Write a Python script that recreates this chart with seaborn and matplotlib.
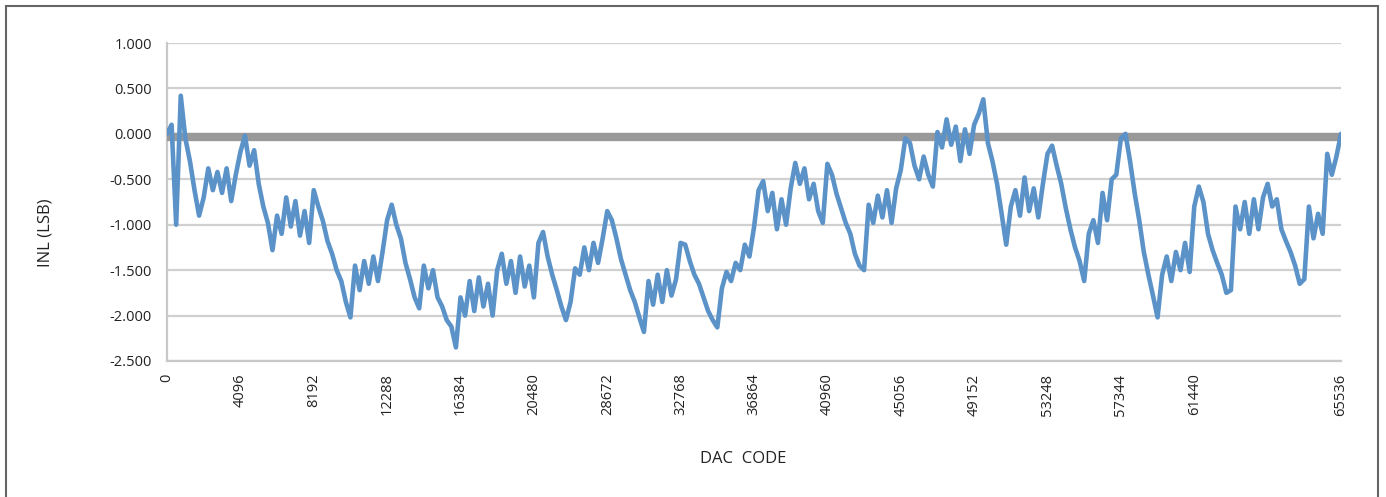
import numpy as np
import pandas as pd
import matplotlib
matplotlib.use("Agg")
import matplotlib.pyplot as plt
from matplotlib.patches import Rectangle
from matplotlib.ticker import FormatStrFormatter
import seaborn as sns

# DAC codes sampled every 256 codes across the 16-bit range
code_step = 256
full_scale = 65536

# Integral non-linearity (LSB) at each sampled code
inl_lsb = [
    0.00, 0.10, -1.00, 0.42, -0.05, -0.30, -0.62, -0.90, -0.70, -0.38,
    -0.62, -0.42, -0.65, -0.38, -0.74, -0.45, -0.20, -0.02, -0.35, -0.18,
    -0.55, -0.80, -0.98, -1.28, -0.90, -1.10, -0.70, -1.02, -0.74, -1.12,
    -0.85, -1.20, -0.62, -0.80, -0.96, -1.18, -1.32, -1.50, -1.62, -1.85,
    -2.02, -1.45, -1.72, -1.40, -1.65, -1.35, -1.62, -1.30, -0.95, -0.78,
    -1.00, -1.15, -1.42, -1.60, -1.80, -1.92, -1.45, -1.70, -1.50, -1.80,
    -1.90, -2.05, -2.12, -2.35, -1.80, -2.00, -1.62, -1.95, -1.58, -1.90,
    -1.65, -2.00, -1.50, -1.32, -1.65, -1.40, -1.75, -1.35, -1.68, -1.45,
    -1.80, -1.20, -1.08, -1.35, -1.55, -1.72, -1.90, -2.05, -1.85, -1.48,
    -1.55, -1.25, -1.50, -1.20, -1.42, -1.15, -0.85, -0.95, -1.15, -1.38,
    -1.55, -1.72, -1.85, -2.02, -2.18, -1.62, -1.88, -1.55, -1.85, -1.50,
    -1.78, -1.60, -1.20, -1.22, -1.40, -1.55, -1.65, -1.80, -1.95, -2.05,
    -2.13, -1.70, -1.52, -1.62, -1.42, -1.50, -1.22, -1.35, -1.03, -0.62,
    -0.52, -0.85, -0.65, -1.05, -0.72, -1.00, -0.60, -0.32, -0.55, -0.38,
    -0.72, -0.55, -0.85, -0.98, -0.33, -0.45, -0.66, -0.82, -0.98, -1.10,
    -1.32, -1.45, -1.50, -0.78, -0.98, -0.68, -0.92, -0.62, -0.98, -0.60,
    -0.40, -0.05, -0.10, -0.35, -0.50, -0.25, -0.45, -0.58, 0.02, -0.15,
    0.16, -0.12, 0.08, -0.30, 0.05, -0.22, 0.10, 0.22, 0.38, -0.10,
    -0.30, -0.55, -0.88, -1.22, -0.80, -0.62, -0.90, -0.48, -0.85, -0.60,
    -0.92, -0.55, -0.22, -0.13, -0.35, -0.55, -0.82, -1.05, -1.25, -1.40,
    -1.62, -1.10, -0.95, -1.20, -0.65, -0.95, -0.50, -0.45, -0.05, 0.00,
    -0.30, -0.65, -0.95, -1.30, -1.55, -1.78, -2.02, -1.55, -1.35, -1.62,
    -1.30, -1.50, -1.20, -1.52, -0.80, -0.58, -0.75, -1.10, -1.28, -1.42,
    -1.55, -1.75, -1.72, -0.80, -1.05, -0.75, -1.10, -0.72, -1.05, -0.70,
    -0.55, -0.80, -0.72, -1.05, -1.18, -1.30, -1.45, -1.65, -1.60, -0.80,
    -1.15, -0.88, -1.10, -0.22, -0.45, -0.25, 0.00,
]
dac_code = np.arange(len(inl_lsb)) * code_step

# Reference level drawn as a heavy grey band
reference_level = -0.03

# Category-style axis labels: tick slots every 4096 codes
x_tick_pos = [0, 4096, 8192, 12288, 16384, 20480, 24576, 28672, 32768,
              36864, 40960, 45056, 49152, 53248, 57344, 65536]
x_tick_text = ["0", "4096", "8192", "12288", "16384", "20480", "28672",
               "32768", "36864", "40960", "45056", "49152", "53248",
               "57344", "61440", "65536"]
y_ticks = [1.0, 0.5, 0.0, -0.5, -1.0, -1.5, -2.0, -2.5]

sns.set_theme(style="white")
plt.rcParams["font.family"] = ["Open Sans", "DejaVu Sans"]

W, H = 1386, 497
fig = plt.figure(figsize=(W / 100, H / 100), dpi=100)
ax = fig.add_axes([167 / W, 1 - 361 / H, (1341 - 167) / W, (361 - 43) / H])

df = pd.DataFrame({"code": dac_code, "inl": inl_lsb})

ax.axhline(reference_level, color="#999999", lw=6.0, zorder=2,
           solid_capstyle="butt")
sns.lineplot(data=df, x="code", y="inl", ax=ax, color="#5B93C9",
             linewidth=3.3, estimator=None, sort=False, zorder=3)

ax.set_xlim(0, full_scale)
ax.set_ylim(-2.5, 1.0)
ax.set_xticks(x_tick_pos)
ax.set_xticklabels(x_tick_text, rotation=90, fontsize=10.5, color="#222222")
ax.set_yticks(y_ticks)
ax.yaxis.set_major_formatter(FormatStrFormatter("%.3f"))
ax.tick_params(axis="y", labelsize=10.5, labelcolor="#222222",
               length=6, width=1.5, color="#c8c8c8", pad=5)
ax.tick_params(axis="x", length=0, pad=9)

ax.yaxis.grid(True, color="#d0d0d0", lw=1.6, zorder=0)
ax.xaxis.grid(False)
for side in ("top", "right"):
    ax.spines[side].set_visible(False)
for side in ("left", "bottom"):
    ax.spines[side].set_color("#c8c8c8")
    ax.spines[side].set_linewidth(1.6)
    ax.spines[side].set_zorder(1)

ax.set_xlabel("DAC  CODE", fontsize=12, color="#222222")
ax.xaxis.set_label_coords((743 - 167) / 1174, (361 - 459) / 318)
ax.xaxis.label.set_va("center")
ax.set_ylabel("INL (LSB)", fontsize=12, color="#222222")
ax.yaxis.set_label_coords((45 - 167) / 1174, (361 - 233) / 318)
ax.yaxis.label.set_va("center")

# Outer frame around the chart area
frame = Rectangle((6 / W, -0.05), (1378 - 6) / W, 1.05 - 6 / H,
                  transform=fig.transFigure, fill=False,
                  edgecolor="#666666", lw=1.5, clip_on=False)
fig.patches.append(frame)

fig.savefig("out.png", dpi=100, facecolor="white")
